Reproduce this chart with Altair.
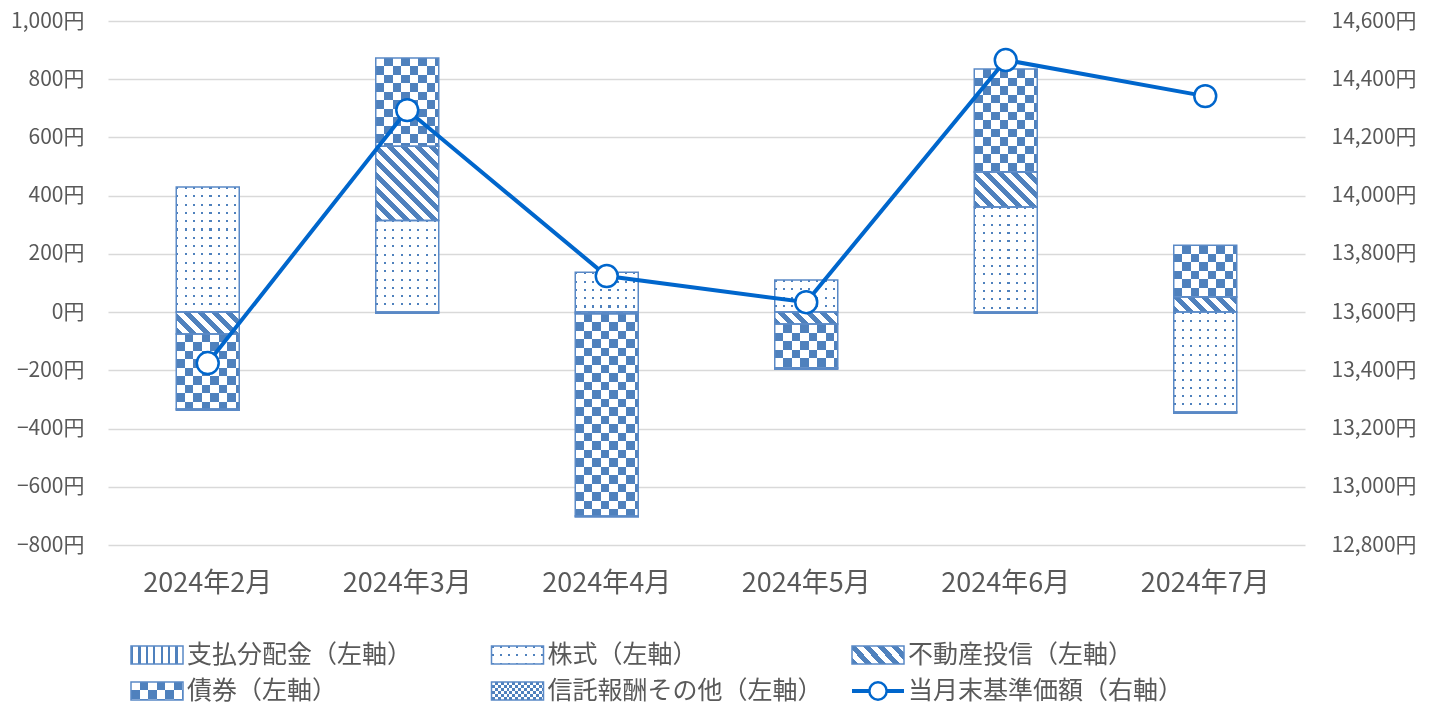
import math
import altair as alt

# ---------------- data ----------------
months = ["2024年2月", "2024年3月", "2024年4月", "2024年5月", "2024年6月", "2024年7月"]
series = ["支払分配金（左軸）", "株式（左軸）", "不動産投信（左軸）", "債券（左軸）", "信託報酬その他（左軸）"]
line_label = "当月末基準価額（右軸）"
dist = [0, 0, 0, 0, 0, 0]
stocks = [430, 315, 137, 110, 361, -343]
reit = [-75, 255, -6, -41, 120, 52]
bonds = [-258, 303, -694, -151, 354, 178]
fees = [-4, -4, -4, -4, -4, -4]
nav = [13425, 14294, 13724, 13634, 14466, 14342]
left_ticks = list(range(-800, 1001, 200))
right_ticks = list(range(12800, 14601, 200))

# ---------------- style ----------------
FONT = "Noto Sans CJK JP"
TXT = "#595959"
BLUE = "#4f81bd"
DOT = "#4f81bd"
EDGE = "#5a89c6"
LINE = "#0066cc"
GRID = "#d9d9d9"
W, H = 1197, 524
BAR_W = 63
PX = H / 1800.0
CLEAR = "rgba(255,255,255,0)"


def stops(n, duty, on, off):
    out, k = [], 0
    while k / n < 1:
        a = k / n
        b = min((k + duty) / n, 1.0)
        c = min((k + 1) / n, 1.0)
        out += [{"offset": a, "color": on}, {"offset": b, "color": on},
                {"offset": b, "color": off}, {"offset": c, "color": off}]
        k += 1
    return out


def lin(axis, n, duty, on, off):
    n = max(n, 0.5)
    if axis == "x":
        x1, y1, x2, y2 = 0, 0, 1, 0
    else:
        x1, y1, x2, y2 = 0, 0, 0, 1
    return {"gradient": "linear", "x1": x1, "y1": y1, "x2": x2, "y2": y2,
            "stops": stops(n, duty, on, off)}


def diag(w, h, period, duty, on, off):
    h = max(h, 1.0)
    k = (w + h) / (w * w + h * h)
    n = max((w + h) / period, 1.0)
    return {"gradient": "linear", "x1": 0, "y1": 1, "x2": k * w, "y2": 1 - k * h,
            "stops": stops(n, duty, on, off)}


def patterns(kind, w, h):
    """returns (base fill, overlay fill) for a swatch of w x h pixels"""
    if kind == "vlines":
        return lin("x", w / 7.4, 0.3, BLUE, "white"), None
    if kind == "dots":
        return lin("x", w / 8.3, 0.25, DOT, "white"), lin("y", max(h, 4) / 8.3, 0.25, CLEAR, "white")
    if kind == "diag":
        return diag(w, h, 14, 0.5, BLUE, "white"), None
    if kind == "check":
        cell = 8.5
        return lin("x", w / (2 * cell), 0.5, "black", "white"), lin("y", max(h, 4) / (2 * cell), 0.5, "white", "black")
    if kind == "fine":
        cell = 3.0
        return lin("x", w / (2 * cell), 0.5, "black", "white"), lin("y", max(h, 4) / (2 * cell), 0.5, "white", "black")
    return BLUE, None


main_kinds = ["vlines", "dots", "diag", "check", "solid"]
legend_kinds = ["vlines", "dots", "diag", "check", "fine"]

rows = []
for i, m in enumerate(months):
    for j, vals in enumerate([dist, stocks, reit, bonds, fees]):
        v = vals[i]
        g1, g2 = patterns(main_kinds[j], BAR_W, abs(v) * PX)
        rows.append({"month": m, "series": series[j], "order": j, "value": v,
                     "kind": main_kinds[j], "g1": g1, "g2": g2})
bar_data = alt.Data(values=rows)
line_data = alt.Data(values=[{"month": m, "nav": v} for m, v in zip(months, nav)])

# ---------------- scales / axes ----------------
xscale = alt.Scale(domain=months, paddingInner=1 - BAR_W / (W / 6), paddingOuter=(1 - BAR_W / (W / 6)) / 2)
xaxis = alt.Axis(title=None, labelFontSize=27, labelColor=TXT, labelFont=FONT, ticks=False,
                 domain=False, labelPadding=25, labelAngle=0, grid=False)
yL = alt.Scale(domain=[-800, 1000], nice=False, zero=False)
yR = alt.Scale(domain=[12800, 14600], nice=False, zero=False)
axL = alt.Axis(title=None, values=left_ticks, labelExpr="format(datum.value, ',') + '円'",
               labelFontSize=21, labelColor=TXT, labelFont=FONT, ticks=False, domain=False,
               labelPadding=24, grid=True, gridColor=GRID, gridWidth=1.3)
axR = alt.Axis(title=None, values=right_ticks, labelExpr="format(datum.value, ',') + '円'",
               labelFontSize=21, labelColor=TXT, labelFont=FONT, ticks=False, domain=False,
               labelPadding=26, grid=False, orient="right")

X = alt.X("month:N", sort=months, scale=xscale, axis=xaxis, title=None)


def stacked():
    return (alt.Chart(bar_data)
            .transform_filter("datum.value != 0")
            .transform_stack(stack="value", groupby=["month"], as_=["y0", "y1"],
                             sort=[alt.SortField("order", "ascending")], offset="zero"))


Y = alt.Y("y0:Q", scale=yL, axis=axL, title=None)
Y2 = alt.Y2("y1:Q")

base = stacked().mark_bar(strokeWidth=0).encode(x=X, y=Y, y2=Y2, fill=alt.Fill("g1:N", scale=None))
over = (stacked().transform_filter("datum.kind == 'dots'")
        .mark_bar(strokeWidth=0).encode(x=X, y=Y, y2=Y2, fill=alt.Fill("g2:N", scale=None)))
diff = (stacked().transform_filter("datum.kind == 'check'")
        .mark_bar(strokeWidth=0, blend="difference").encode(x=X, y=Y, y2=Y2, fill=alt.Fill("g2:N", scale=None)))
scr = (stacked().transform_filter("datum.kind == 'check'")
       .mark_bar(strokeWidth=0, blend="screen", fill=BLUE).encode(x=X, y=Y, y2=Y2))
outline = stacked().mark_bar(fill="white", fillOpacity=0, stroke=EDGE, strokeWidth=1.5).encode(x=X, y=Y, y2=Y2)

bars = alt.layer(base, over, diff, scr, outline)

YR = alt.Y("nav:Q", scale=yR, axis=axR, title=None)
line = alt.Chart(line_data).mark_line(color=LINE, strokeWidth=4).encode(x=X, y=YR)
pts = alt.Chart(line_data).mark_point(shape="circle", size=480, filled=True, fill="white",
                                      stroke=LINE, strokeWidth=2.5, opacity=1).encode(x=X, y=YR)
navl = alt.layer(line, pts)

main = alt.layer(bars, navl).resolve_scale(y="independent").properties(width=W, height=H)

# ---------------- legend ----------------
SW, SH = 52, 18
RECT = "M-1,-%.4fH1V%.4fH-1Z" % (SH / SW, SH / SW)
lrows = []
for idx, lab in enumerate(series + [line_label]):
    if idx < len(series):
        g1, g2 = patterns(legend_kinds[idx], SW, SH)
        kind = legend_kinds[idx]
    else:
        g1, g2, kind = None, None, "line"
    lrows.append({"label": lab, "col": idx % 3, "row": idx // 3, "kind": kind, "g1": g1, "g2": g2})
ldata = alt.Data(values=lrows)
LX = alt.X("col:Q", scale=alt.Scale(domain=[0, 2], range=[49, 770]), axis=None)
LY = alt.Y("row:Q", scale=alt.Scale(domain=[0, 1], range=[18, 54]), axis=None)


def lchart():
    return alt.Chart(ldata)


sym = dict(shape=RECT, size=SW * SW, opacity=1, strokeWidth=0, filled=True)
l_base = lchart().transform_filter("datum.kind != 'line'").mark_point(**sym).encode(
    x=LX, y=LY, fill=alt.Fill("g1:N", scale=None))
l_over = lchart().transform_filter("datum.kind == 'dots'").mark_point(**sym).encode(
    x=LX, y=LY, fill=alt.Fill("g2:N", scale=None))
l_diff = lchart().transform_filter("datum.kind == 'check' || datum.kind == 'fine'").mark_point(
    blend="difference", **sym).encode(x=LX, y=LY, fill=alt.Fill("g2:N", scale=None))
l_scr = lchart().transform_filter("datum.kind == 'check' || datum.kind == 'fine'").mark_point(
    shape=RECT, size=SW * SW, opacity=1, strokeWidth=0, filled=True, fill=BLUE, blend="screen").encode(x=LX, y=LY)
l_edge = lchart().transform_filter("datum.kind != 'line'").mark_point(
    shape=RECT, size=SW * SW, opacity=1, filled=False, stroke=EDGE, strokeWidth=1.5).encode(x=LX, y=LY)
l_line = lchart().transform_filter("datum.kind == 'line'").mark_point(
    shape="M-1,0H1", size=SW * SW, opacity=1, filled=False, stroke=LINE, strokeWidth=4).encode(x=LX, y=LY)
l_circ = lchart().transform_filter("datum.kind == 'line'").mark_point(
    shape="circle", size=300, opacity=1, filled=True, fill="white", stroke=LINE, strokeWidth=2.5).encode(x=LX, y=LY)
l_text = lchart().mark_text(align="left", baseline="middle", dx=30, fontSize=25, font=FONT, color=TXT).encode(
    x=LX, y=LY, text="label:N")

legend = alt.layer(l_base, l_over, l_diff, l_scr, l_edge, l_line, l_circ, l_text).properties(width=W, height=72)

chart = (alt.vconcat(main, legend, spacing=41)
         .properties(padding={"left": 2, "top": 2, "right": 0, "bottom": 0}, background="white")
         .configure(font=FONT)
         .configure_view(strokeWidth=0, stroke="transparent"))

chart.save("out.html", embed_options={"renderer": "svg", "actions": False})
